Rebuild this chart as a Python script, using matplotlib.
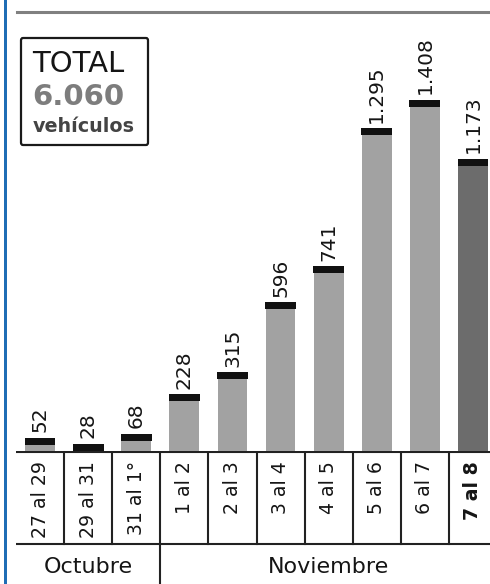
import matplotlib
matplotlib.use('Agg')
import matplotlib.pyplot as plt
from matplotlib.patches import Rectangle, FancyBboxPatch
from matplotlib.lines import Line2D

# datos
rangos = ['27 al 29', '29 al 31', '31 al 1°', '1 al 2', '2 al 3',
	'3 al 4', '4 al 5', '5 al 6', '6 al 7', '7 al 8']
etiquetas = ['52', '28', '68', '228', '315', '596', '741', '1.295', '1.408', '1.173']
vehiculos = [52, 28, 68, 228, 315, 596, 741, 1295, 1408, 1173]
meses = ['Octubre', 'Noviembre']
total = '6.060'

W, H = 490, 584
COL = 48.1          # ancho de columna en px
X0 = 16             # borde izquierdo de la tabla en px
BASE = H - 451      # linea base en px desde abajo
ESCALA = 351 / 1408.0

fig = plt.figure(figsize=(W / 100.0, H / 100.0), dpi=100)
fig.patch.set_facecolor('white')

xmin = -0.5
xmax = -0.5 + (W - X0) / COL

# barras
ax = fig.add_axes([X0 / W, BASE / H, (W - X0) / W, (H - BASE) / H])
ax.set_xlim(xmin, xmax)
ax.set_ylim(0, (H - BASE) / ESCALA)
ax.axis('off')

colores = ['#a2a2a2'] * (len(vehiculos) - 1) + ['#6c6c6c']
cap = 7 / ESCALA
ax.bar(range(len(vehiculos)), vehiculos, width=0.62, color=colores, linewidth=0)
for i, v in enumerate(vehiculos):
	ax.bar(i, min(cap, v), bottom=v - min(cap, v), width=0.64, color='#111111', linewidth=0)
	ax.annotate(etiquetas[i], (i, v), xytext=(0, 4), textcoords='offset points',
		rotation=90, ha='center', va='bottom', fontsize=14.5, color='#151515')

# tabla inferior
tb = fig.add_axes([X0 / W, 0, (W - X0) / W, BASE / H])
tb.set_xlim(xmin, xmax)
tb.set_ylim(0, BASE)
tb.axis('off')

lc = '#222222'
lw = 1.5
tb.plot([xmin, xmax], [BASE - 0.5, BASE - 0.5], color=lc, lw=lw, solid_capstyle='butt')
tb.plot([xmin, xmax], [H - 544, H - 544], color=lc, lw=lw, solid_capstyle='butt')
for i in range(len(rangos) - 1):
	if i == 2:
		tb.plot([i + 0.5, i + 0.5], [0, BASE], color=lc, lw=lw)
	else:
		tb.plot([i + 0.5, i + 0.5], [H - 544, BASE], color=lc, lw=lw)

for i, r in enumerate(rangos):
	peso = 'bold' if i == len(rangos) - 1 else 'normal'
	tb.text(i, BASE - 10, r, rotation=90, ha='center', va='top',
		fontsize=13.6, fontweight=peso, color='#151515')

tb.text(1, H - 567, meses[0], ha='center', va='center', fontsize=16, color='#151515')
tb.text(6, H - 567, meses[1], ha='center', va='center', fontsize=16, color='#151515')

# borde azul y linea superior
fig.add_artist(Rectangle((4 / W, 0), 3 / W, 1, transform=fig.transFigure,
	color='#1f6db5', linewidth=0))
fig.add_artist(Line2D([17 / W, 1], [1 - 11.5 / H, 1 - 11.5 / H], transform=fig.transFigure,
	color='#808080', lw=2.2))

# recuadro del total
fig.add_artist(FancyBboxPatch((21 / W, 1 - 145 / H), 127 / W, 107 / H,
	boxstyle='round,pad=0,rounding_size=0.004', transform=fig.transFigure,
	facecolor='white', edgecolor='#1a1a1a', lw=1.6))
fig.text(32 / W, 1 - 64 / H, 'TOTAL', ha='left', va='center', fontsize=21, color='#151515')
fig.text(32 / W, 1 - 97 / H, total, ha='left', va='center', fontsize=21,
	fontweight='bold', color='#7d7d7d')
fig.text(33 / W, 1 - 126 / H, 'vehículos', ha='left', va='center', fontsize=13.8,
	fontweight='bold', color='#444444')

fig.savefig('out.png', dpi=100)
